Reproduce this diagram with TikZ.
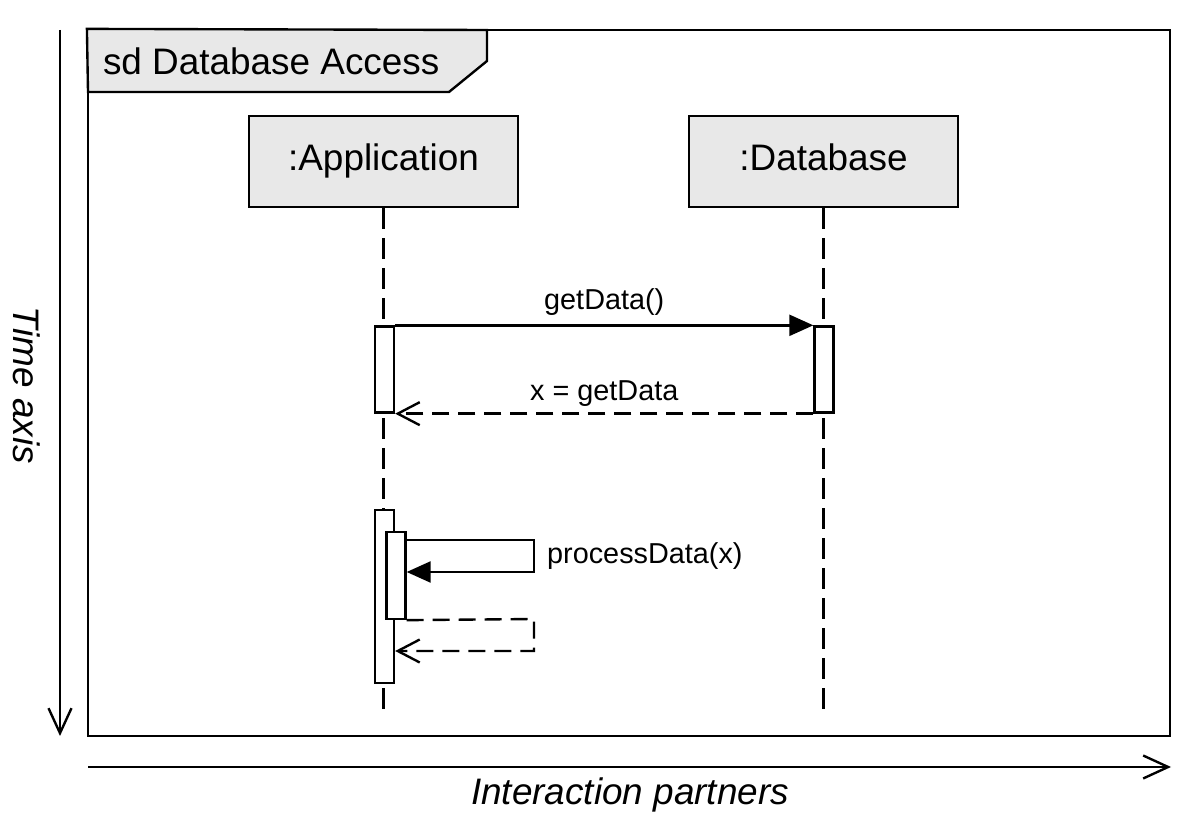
\documentclass[tikz,border=0pt]{standalone}
\usepackage{fontspec}
\setmainfont{Liberation Sans}
\usetikzlibrary{arrows.meta}
\definecolor{headgray}{RGB}{232,232,232}

\begin{document}
\begin{tikzpicture}[x=0.02cm,y=-0.02cm,line width=1.35pt,
	bigfont/.style={font=\fontsize{21}{25}\selectfont},
	msgfont/.style={font=\fontsize{16.4}{20}\selectfont},
	partner/.style={draw,fill=headgray,minimum width=5.38cm,minimum height=1.82cm,inner sep=0,
		text height=0.53cm,text depth=0.15cm,bigfont},
	actbox/.style={draw,fill=white,minimum width=0.38cm,inner sep=0},
	lifeline/.style={dash pattern=on 0.42cm off 0.18cm},
	callmsg/.style={-{Triangle[length=0.48cm,width=0.42cm]}},
	replymsg/.style={dash pattern=on 0.34cm off 0.18cm,-{Straight Barb[length=0.44cm,width=0.46cm]}},
	axisarrow/.style={-{Straight Barb[length=0.5cm,width=0.46cm]}}]
	\useasboundingbox (0,0) rectangle (1204,830);

	% frame and tag
	\node[draw,minimum width=21.64cm,minimum height=14.12cm,inner sep=0] (frame) at (629,383) {};
	\draw[fill=headgray] (frame.north west) -- (487,30) -- (487,61) -- (449,92) -- (88,92) -- cycle;
	\node[bigfont,anchor=west] (title) at (96,61) {sd Database Access};

	% partners
	\node[partner] (app) at (383.5,161.5) {:Application};
	\node[partner] (db) at (823.5,161.5) {:Database};
	\coordinate (append) at (383.5,715);
	\coordinate (dbend) at (823.5,715);
	\draw[lifeline] (app.south) -- (append);
	\draw[lifeline] (db.south) -- (dbend);

	% activations
	\node[actbox,minimum height=1.72cm] (actA) at (384.5,369.5) {};
	\node[actbox,minimum height=1.72cm] (actD) at (824,369.5) {};
	\node[actbox,minimum height=3.46cm] (actB) at (384.5,596.5) {};
	\node[actbox,minimum height=1.74cm] (actC) at (396,575.5) {};

	% getData
	\draw[callmsg] (actA.north east) -- node[midway,above=0.17cm,inner sep=0,msgfont] (m1) {getData()} (actD.north west);
	\draw[replymsg] (actD.south west) -- node[midway,above=0.12cm,inner sep=0,msgfont] (m2) {x = getData} (actA.south east);

	% processData
	\coordinate (s1) at (534,540);
	\coordinate (s2) at (534,572);
	\coordinate (r1) at (534,619);
	\coordinate (r2) at (534,651);
	\draw[callmsg] (actC.east |- s1) -- (s1) -- (s2) -- (actC.east |- s2);
	\node[msgfont,anchor=west,inner sep=0] (m3) at (546,556) {processData(x)};
	\draw[replymsg] (actC.south east) -- (r1) -- (r2) -- (actB.east |- r2);

	% axes
	\coordinate (t0) at (60,30);
	\coordinate (t1) at (60,736);
	\coordinate (p0) at (88,767);
	\coordinate (p1) at (1171,767);
	\draw[axisarrow] (t0) -- (t1);
	\draw[axisarrow] (p0) -- (p1);
	\node[bigfont,rotate=-90] (tlabel) at (27,385) {\itshape Time axis};
	\node[bigfont] (plabel) at (630,795) {\itshape Interaction partners};
\end{tikzpicture}
\end{document}
